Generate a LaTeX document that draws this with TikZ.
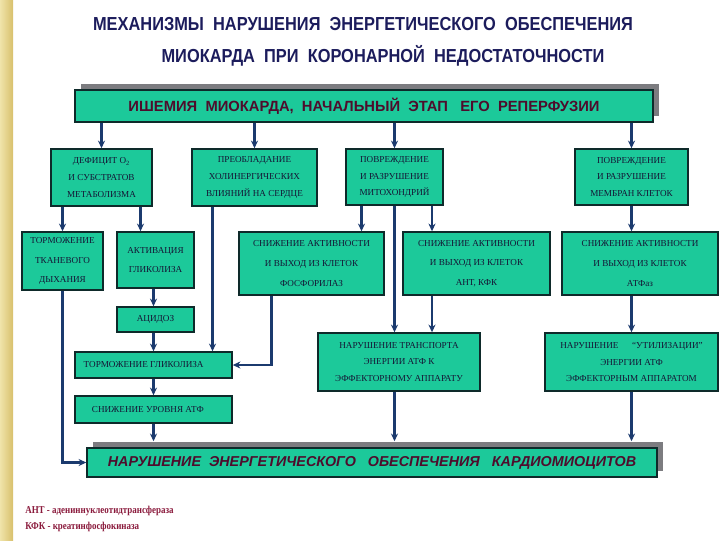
\documentclass[tikz,border=0pt]{standalone}
\usepackage{fontspec}
\setmainfont{Liberation Serif}
\newfontfamily\headfont[FakeStretch=0.87]{Liberation Sans}
\newfontfamily\banfont{Liberation Sans}
\newfontfamily\notefont[FakeStretch=0.85]{Liberation Serif}
\usetikzlibrary{arrows.meta,shadows}
\definecolor{boxgreen}{HTML}{1CC99A}
\definecolor{boxedge}{HTML}{0E2A2A}
\definecolor{boxtext}{HTML}{151535}
\definecolor{arrowblue}{HTML}{1B3A6E}
\definecolor{shadowgray}{HTML}{7C7C80}
\definecolor{titleblue}{HTML}{1C1C5C}
\definecolor{bannerred}{HTML}{4E0C2C}
\definecolor{notered}{HTML}{8A1A3C}
\definecolor{stripleft}{HTML}{F0E4AA}
\definecolor{stripright}{HTML}{D8C06C}

\begin{document}
\begin{tikzpicture}[
    x=0.025cm, y=-0.025cm,
    every node/.style={inner sep=0pt},
    block/.style 2 args={rectangle, draw=boxedge, line width=1pt, fill=boxgreen, text=boxtext,
        align=center, minimum width=#1*0.025cm, minimum height=#2*0.025cm,
        font=\fontsize{6.5}{12}\selectfont},
    tall/.style={font=\fontsize{6.5}{14}\selectfont},
    banner/.style={general shadow={fill=shadowgray, shadow xshift=4.3pt, shadow yshift=4.3pt}},
    arr/.style={-{Stealth[length=5.5pt,width=5pt]}, line width=1.8pt, draw=arrowblue}
]
\useasboundingbox (0,0) rectangle (720,540);
\shade[left color=stripleft, right color=stripright] (0,0) rectangle (13,540);

% title
\node (title1) at (363,24) [text=titleblue, font=\headfont\bfseries\fontsize{13.4}{15}\selectfont]
    {МЕХАНИЗМЫ~ НАРУШЕНИЯ~ ЭНЕРГЕТИЧЕСКОГО~ ОБЕСПЕЧЕНИЯ};
\node (title2) at (383,56) [text=titleblue, font=\headfont\bfseries\fontsize{13.4}{15}\selectfont]
    {МИОКАРДА~ ПРИ~ КОРОНАРНОЙ~ НЕДОСТАТОЧНОСТИ};

% top and bottom banners
\node (ishemia) at (364,106) [block={578}{32}, banner, text=bannerred, font=\banfont\bfseries\fontsize{10.5}{12}\selectfont]
    {ИШЕМИЯ~ МИОКАРДА,~ НАЧАЛЬНЫЙ~ ЭТАП~~ ЕГО~ РЕПЕРФУЗИИ};
\node (final) at (372,462.5) [block={570}{29}, banner, text=bannerred, font=\banfont\bfseries\itshape\fontsize{10.2}{12}\selectfont]
    {НАРУШЕНИЕ~ ЭНЕРГЕТИЧЕСКОГО~~ ОБЕСПЕЧЕНИЯ~~ КАРДИОМИОЦИТОВ};
\coordinate (finaltop) at ([yshift=4.3pt]final.north);

% second row
\node (defic) at (101.5,177.5) [block={101}{57}] {ДЕФИЦИТ O\textsubscript{2}\\И СУБСТРАТОВ\\МЕТАБОЛИЗМА};
\node (cholin) at (254.5,177.5) [block={125}{57}] {ПРЕОБЛАДАНИЕ\\ХОЛИНЕРГИЧЕСКИХ\\ВЛИЯНИЙ НА СЕРДЦЕ};
\node (mito) at (394.5,177) [block={97}{56}] {ПОВРЕЖДЕНИЕ\\И РАЗРУШЕНИЕ\\МИТОХОНДРИЙ};
\node (membr) at (631.5,177) [block={113}{56}] {ПОВРЕЖДЕНИЕ\\И РАЗРУШЕНИЕ\\МЕМБРАН КЛЕТОК};

% third row
\node (tkan) at (62.5,261) [block={81}{58}, tall] {ТОРМОЖЕНИЕ\\ТКАНЕВОГО\\ДЫХАНИЯ};
\node (glik) at (155.5,260) [block={77}{56}, tall] {АКТИВАЦИЯ\\ГЛИКОЛИЗА};
\node (fosf) at (311.5,263.5) [block={145}{63}, tall] {СНИЖЕНИЕ АКТИВНОСТИ\\И ВЫХОД ИЗ КЛЕТОК\\ФОСФОРИЛАЗ};
\node (ant) at (476.5,263.5) [block={147}{63}, tall] {СНИЖЕНИЕ АКТИВНОСТИ\\И ВЫХОД ИЗ КЛЕТОК\\АНТ, КФК};
\node (atfaz) at (640,263.5) [block={156}{63}, tall] {СНИЖЕНИЕ АКТИВНОСТИ\\И ВЫХОД ИЗ КЛЕТОК\\АТФаз};

% left chain
\node (acid) at (155.5,319.5) [block={77}{25}] {АЦИДОЗ};
\node (tormglik) at (153.5,365) [block={157}{26}] {ТОРМОЖЕНИЕ ГЛИКОЛИЗА\hspace{14pt}};
\node (atflow) at (153.5,409.5) [block={157}{27}] {СНИЖЕНИЕ УРОВНЯ АТФ\hspace{8pt}};

% right pair
\node (transp) at (399,362) [block={162}{58}] {НАРУШЕНИЕ ТРАНСПОРТА\\ЭНЕРГИИ АТФ К\\ЭФФЕКТОРНОМУ АППАРАТУ};
\node (util) at (631.5,362) [block={173}{58}] {НАРУШЕНИЕ\hspace{1.5em}“УТИЛИЗАЦИИ”\\ЭНЕРГИИ АТФ\\ЭФФЕКТОРНЫМ АППАРАТОМ};

% footnotes
\node (note1) at (25,511) [anchor=west, text=notered, font=\notefont\bfseries\fontsize{7.5}{9}\selectfont] {АНТ - адениннуклеотидтрансфераза};
\node (note2) at (25,527) [anchor=west, text=notered, font=\notefont\bfseries\fontsize{7.5}{9}\selectfont] {КФК - креатинфосфокиназа};

\draw[arr] (ishemia.south -| defic.north) -- (defic.north);
\draw[arr] (ishemia.south -| cholin.north) -- (cholin.north);
\draw[arr] (ishemia.south -| mito.north) -- (mito.north);
\draw[arr] (ishemia.south -| membr.north) -- (membr.north);

\draw[arr] (defic.south -| tkan.north) -- (tkan.north);
\draw[arr] (defic.south -| 140.5,0) -- (glik.north -| 140.5,0);
\draw[arr] (mito.south -| 361.5,0) -- (fosf.north -| 361.5,0);
\draw[arr] (mito.south -| 432,0) -- (ant.north -| 432,0);
\draw[arr] (membr.south) -- (atfaz.north -| membr.south);

\draw[arr] (glik.south -| tormglik.north) -- (acid.north -| tormglik.north);
\draw[arr] (acid.south -| tormglik.north) -- (tormglik.north);
\draw[arr] (tormglik.south) -- (atflow.north);
\draw[arr] (atflow.south) -- (finaltop -| atflow.south);
\draw[arr] (cholin.south -| 212.5,0) -- (tormglik.north -| 212.5,0);
\draw[arr] (fosf.south -| 271.5,0) |- (tormglik.east);
\draw[arr] (tkan.south) |- (final.west);

\draw[arr] (mito.south) -- (transp.north -| mito.south);
\draw[arr] (ant.south -| 432,0) -- (transp.north -| 432,0);
\draw[arr] (atfaz.south -| util.north) -- (util.north);
\draw[arr] (transp.south -| mito.south) -- (finaltop -| mito.south);
\draw[arr] (util.south) -- (finaltop -| util.south);

\end{tikzpicture}
\end{document}
